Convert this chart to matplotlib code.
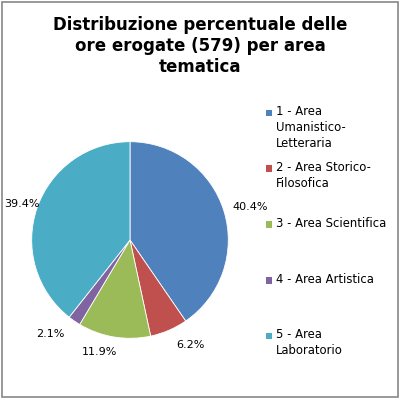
import numpy as np
import matplotlib.pyplot as plt
from matplotlib.patches import Rectangle

# ore erogate per area tematica (totale 579)
categories = ["1 - Area\nUmanistico-\nLetteraria",
              "2 - Area Storico-\nFilosofica",
              "3 - Area Scientifica",
              "4 - Area Artistica",
              "5 - Area\nLaboratorio"]
hours = [234, 36, 69, 12, 228]
colors = ["#4F81BD", "#C0504D", "#9BBB59", "#8064A2", "#4BACC6"]
# percentage label placement (Excel "best fit"): radius and angle shift
label_dist = [1.27, 1.23, 1.18, 1.25, 1.16]
label_shift = [-1.9, 6.6, -5.7, -5.7, 0.6]

W = H = 400
fig = plt.figure(figsize=(4, 4), dpi=100)
plt.rcParams['font.family'] = ['DejaVu Sans']

# outer chart frame
fig.patches.append(Rectangle((1.5 / W, 3.5 / H), 396.5 / W, 395 / H,
                             transform=fig.transFigure, fill=False,
                             edgecolor="#878787", linewidth=1.2))

fig.text(200 / W, 1 - 46 / H,
         "Distribuzione percentuale delle\nore erogate (579) per area\ntematica",
         ha="center", va="center", fontsize=12, fontweight="bold",
         linespacing=1.2)

# pie: centre (130, 240) px, radius 98 px
r = 98.3
ax = fig.add_axes([(130 - r) / W, 1 - (240 + r) / H, 2 * r / W, 2 * r / H])
wedges, texts, autotexts = ax.pie(
    hours, colors=colors, startangle=90, counterclock=False,
    autopct="%.1f%%", pctdistance=1.22,
    wedgeprops=dict(edgecolor="white", linewidth=0.6),
    textprops=dict(fontsize=8, color="black"))
for w, t, d, s in zip(wedges, autotexts, label_dist, label_shift):
    ang = np.deg2rad((w.theta1 + w.theta2) / 2 + s)
    t.set_position((d * np.cos(ang), d * np.sin(ang)))
ax.set_xlim(-1, 1)
ax.set_ylim(-1, 1)
ax.set_aspect("equal")

# legend, evenly spaced like Excel
for i, (lab, col) in enumerate(zip(categories, colors)):
    y = 112.7 + i * 55.8
    fig.patches.append(Rectangle((265.5 / W, 1 - (y + 3.5) / H), 6.5 / W, 6.5 / H,
                                 transform=fig.transFigure, facecolor=col,
                                 edgecolor="none"))
    fig.text(276 / W, 1 - (y - 7.5) / H, lab, ha="left", va="top",
             fontsize=8.4, linespacing=1.27)

fig.savefig("out.png", dpi=100)
